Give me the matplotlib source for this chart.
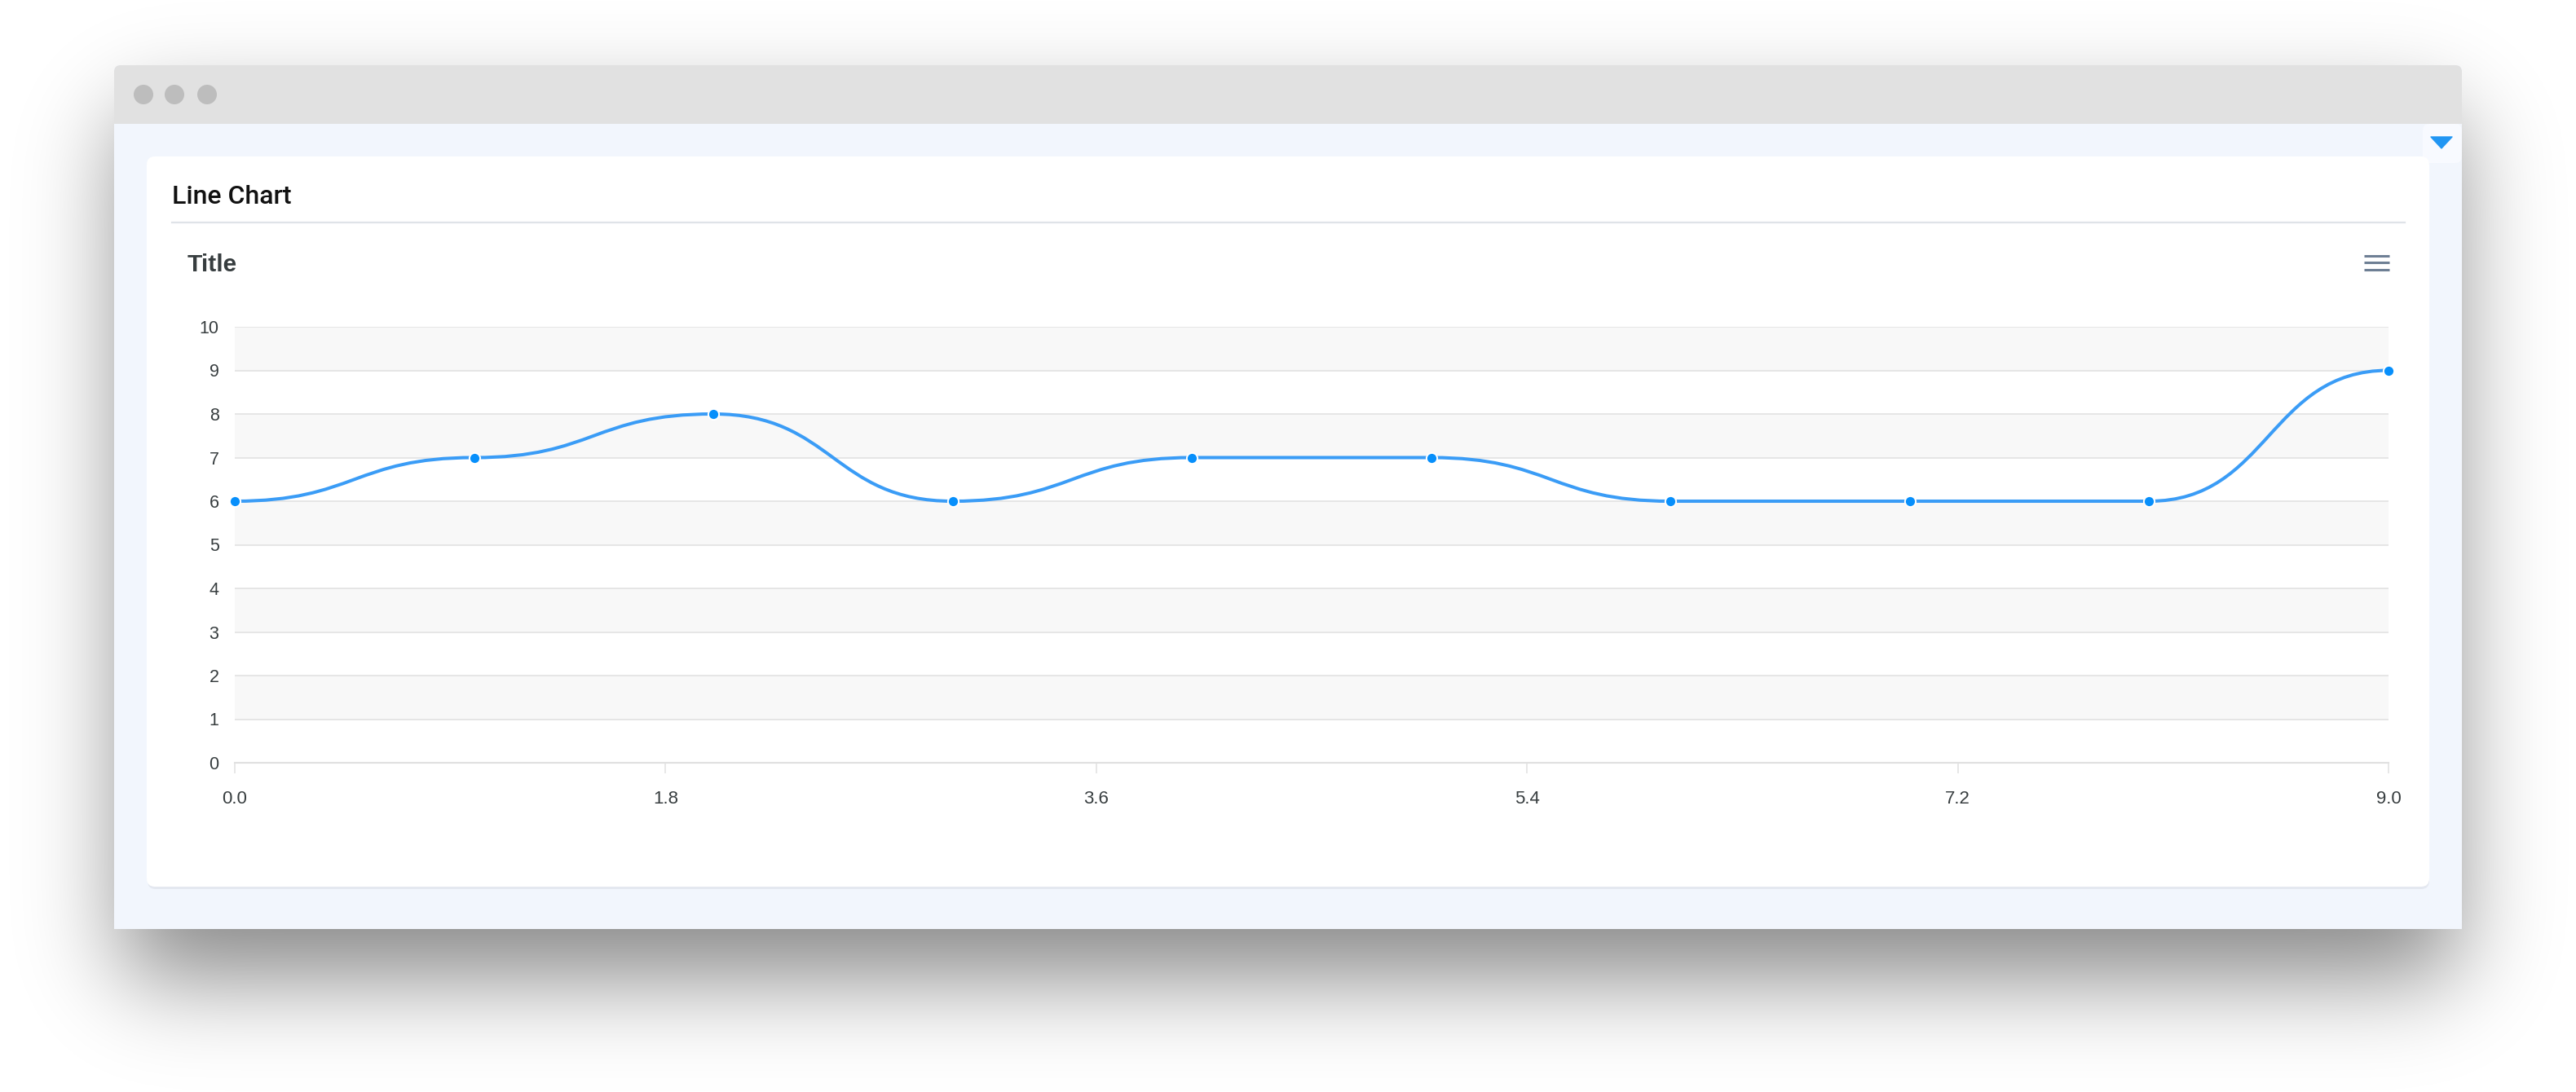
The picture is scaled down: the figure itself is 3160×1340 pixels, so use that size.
import math

import matplotlib
matplotlib.use("Agg")
import matplotlib.pyplot as plt
import numpy as np
from matplotlib.patches import Circle, FancyBboxPatch, PathPatch, Polygon, Rectangle
from matplotlib.path import Path

# data
x_vals = [0, 1, 2, 3, 4, 5, 6, 7, 8, 9]
y_vals = [6, 7, 8, 6, 7, 7, 6, 6, 6, 9]
x_ticks = [0.0, 1.8, 3.6, 5.4, 7.2, 9.0]
x_tick_labels = ["0.0", "1.8", "3.6", "5.4", "7.2", "9.0"]
y_ticks = list(range(0, 11))

W, H = 3160, 1340
LINE_BLUE = "#3a9cf6"
DOT_BLUE = "#078ffb"
TXT = "#373d3f"

fig = plt.figure(figsize=(W / 100, H / 100), dpi=100)
fig.patch.set_facecolor("white")

# page / window layer in pixel coordinates
bg = fig.add_axes([0, 0, 1, 1])
bg.set_xlim(0, W)
bg.set_ylim(H, 0)
bg.axis("off")

# soft drop shadow: gaussian-blurred rectangle (separable)
erf = np.vectorize(math.erf)


def blur_step(n, a, b, s):
    t = np.arange(n) + 0.5
    return 0.5 * (erf((t - a) / (s * math.sqrt(2))) - erf((t - b) / (s * math.sqrt(2))))


fx = blur_step(W, 150, 3012, 58)
fy = blur_step(H, 140, 1200, 58)
shadow = np.outer(fy, fx) * 0.47
rgba = np.zeros((H, W, 4))
rgba[..., 3] = shadow
bg.imshow(rgba, extent=(0, W, H, 0), interpolation="bilinear", zorder=0)

# window body and title bar
bg.add_patch(FancyBboxPatch((140, 80), 2880, 1060, boxstyle="round,pad=0,rounding_size=8",
                            fc="#f2f6fd", ec="none", zorder=1))
bg.add_patch(Rectangle((140, 1120), 2880, 20, fc="#f2f6fd", ec="none", zorder=1))
bg.add_patch(FancyBboxPatch((140, 80), 2880, 72, boxstyle="round,pad=0,rounding_size=8",
                            fc="#e1e1e1", ec="none", zorder=2))
bg.add_patch(Rectangle((140, 130), 2880, 22, fc="#e1e1e1", ec="none", zorder=2))
for cx in (176, 214, 254):
    bg.add_patch(Circle((cx, 116), 12, fc="#bdbdbd", ec="none", zorder=3))

# dropdown toggle on the right
bg.add_patch(FancyBboxPatch((2972, 152), 48, 48, boxstyle="round,pad=0,rounding_size=8",
                            fc="#f8faff", ec="none", zorder=2))
bg.add_patch(Polygon([(2982, 168), (3008, 168), (2995, 182)], closed=True,
                     fc="#2196f3", ec="#2196f3", lw=1, joinstyle="round", zorder=3))

# card
bg.add_patch(FancyBboxPatch((181, 194), 2799, 897, boxstyle="round,pad=0,rounding_size=10",
                            fc="#e4e8f0", ec="none", zorder=2))
bg.add_patch(FancyBboxPatch((180, 192), 2800, 896, boxstyle="round,pad=0,rounding_size=10",
                            fc="white", ec="none", zorder=3))
bg.plot([211, 2950], [273, 273], color="#dfe3e8", lw=1.6, zorder=4)

bg.text(211, 250, "Line Chart", fontsize=23, family="Roboto", weight="medium",
        color="#111111", va="baseline", ha="left", zorder=5)
bg.text(230, 333, "Title", fontsize=21.5, family="Liberation Sans", weight="bold",
        color=TXT, va="baseline", ha="left", zorder=5)

# hamburger menu icon
for yy in (314, 322, 331):
    bg.plot([2900, 2931], [yy, yy], color="#6e7f94", lw=2.2, solid_capstyle="butt", zorder=5)

# chart axes
left, right, top, bottom = 288, 2930, 401, 936
ax = fig.add_axes([left / W, 1 - bottom / H, (right - left) / W, (bottom - top) / H])
ax.set_zorder(5)
ax.patch.set_alpha(0)
ax.set_xlim(0, 9)
ax.set_ylim(0, 10)

for lo in range(1, 10, 2):
    ax.axhspan(lo, lo + 1, color="#f8f8f8", lw=0, zorder=0)
for yv in y_ticks:
    ax.axhline(yv, color="#e2e2e2", lw=1.2, zorder=1)

for s in ("top", "right", "left"):
    ax.spines[s].set_visible(False)
ax.spines["bottom"].set_color("#e0e0e0")
ax.spines["bottom"].set_linewidth(1.5)

ax.set_yticks(y_ticks)
ax.set_yticklabels([str(v) for v in y_ticks])
ax.set_xticks(x_ticks)
ax.set_xticklabels(x_tick_labels)
ax.tick_params(axis="y", length=0, pad=14, labelsize=15.5, labelcolor=TXT)
ax.tick_params(axis="x", length=9.5, width=1.1, color="#e0e0e0", pad=15,
               labelsize=16, labelcolor=TXT)
for lab in ax.get_xticklabels() + ax.get_yticklabels():
    lab.set_family("Liberation Sans")

# smooth line: cubic bezier segments with flat tangents at each point
verts = [(x_vals[0], y_vals[0])]
codes = [Path.MOVETO]
for i in range(len(x_vals) - 1):
    x0, y0, x1, y1 = x_vals[i], y_vals[i], x_vals[i + 1], y_vals[i + 1]
    dx = (x1 - x0) / 2
    verts += [(x0 + dx, y0), (x1 - dx, y1), (x1, y1)]
    codes += [Path.CURVE4] * 3
ax.add_patch(PathPatch(Path(verts, codes), fill=False, ec=LINE_BLUE, lw=2.9,
                       capstyle="round", zorder=3, clip_on=False))
ax.plot(x_vals, y_vals, ls="none", marker="o", ms=9.5, mfc=DOT_BLUE, mec="white",
        mew=1.4, zorder=4, clip_on=False)

fig.savefig("out.png", dpi=100, facecolor="white")
